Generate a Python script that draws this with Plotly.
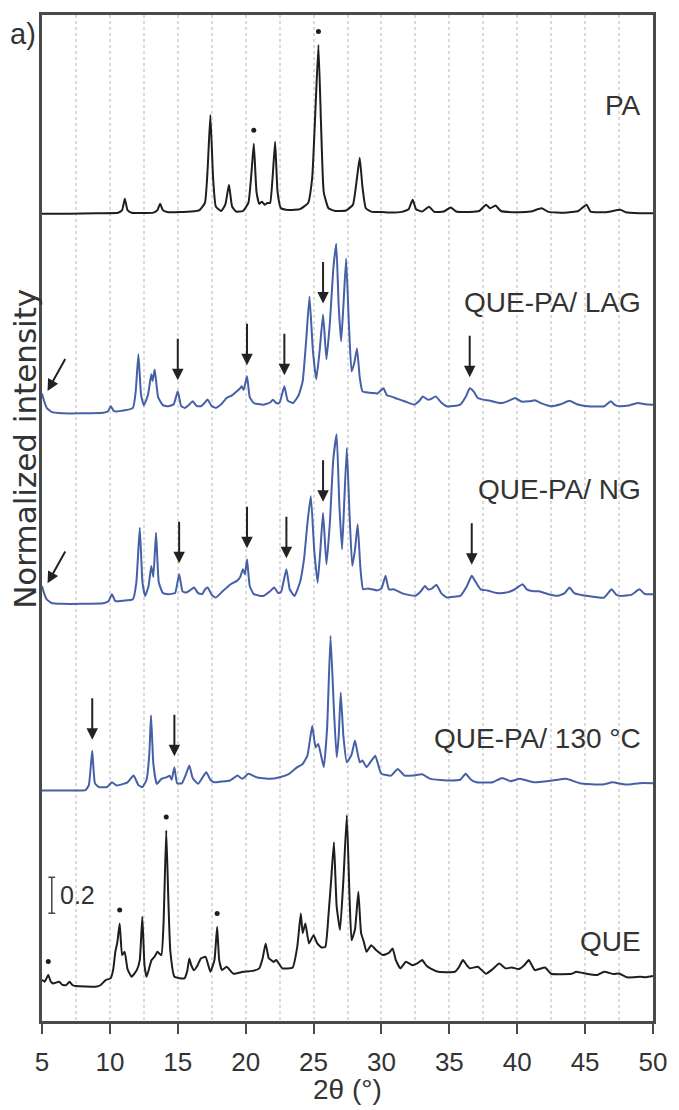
import numpy as np
import plotly.graph_objects as go

# ---------------- data ----------------
PA_X = [5.0, 7.0, 9.0, 10.6, 10.9, 11.1, 11.3, 11.6, 13.2, 13.5, 13.7, 13.9, 14.3, 16.0, 16.6, 17.0, 17.2, 17.4, 17.6,
        17.8, 18.2, 18.5, 18.77, 19.0, 19.3, 19.8, 20.2, 20.45, 20.6, 20.8, 21.0, 21.2, 21.4, 21.6, 21.8, 22.0, 22.17,
        22.35, 22.6, 23.2, 24.0, 24.6, 24.9, 25.15, 25.36, 25.55, 25.75, 26.1, 26.6, 27.4, 27.9, 28.2, 28.4, 28.6,
        28.85, 29.3, 30.0, 30.7, 31.5, 32.0, 32.3, 32.55, 33.0, 33.5, 33.9, 34.6, 35.1, 35.5, 36.5, 37.2, 37.7, 38.0,
        38.4, 38.8, 40.0, 41.0, 41.8, 42.3, 43.5, 44.5, 45.1, 45.4, 46.5, 47.6, 48.0, 49.0, 50.0]
PA_I = [0.0, 0.0, 0.003, 0.005, 0.02, 0.083, 0.02, 0.005, 0.006, 0.02, 0.056, 0.02, 0.008, 0.012, 0.02, 0.06, 0.25,
        0.55, 0.2, 0.04, 0.015, 0.05, 0.161, 0.04, 0.012, 0.015, 0.06, 0.25, 0.389, 0.12, 0.055, 0.067, 0.05, 0.06,
        0.06, 0.22, 0.40, 0.12, 0.03, 0.02, 0.025, 0.06, 0.2, 0.6, 0.939, 0.5, 0.12, 0.03, 0.015, 0.018, 0.05, 0.2,
        0.311, 0.15, 0.03, 0.01, 0.01, 0.006, 0.01, 0.025, 0.078, 0.025, 0.012, 0.039, 0.01, 0.012, 0.035, 0.012,
        0.01, 0.015, 0.05, 0.03, 0.045, 0.015, 0.008, 0.012, 0.03, 0.01, 0.005, 0.015, 0.05, 0.012, 0.008, 0.022,
        0.008, 0.003, 0.002]

LAG_X = [5.0, 5.15, 5.35, 5.7, 6.5, 8.0, 9.5, 9.85, 10.07, 10.3, 11.0, 11.7, 11.9, 12.1, 12.3, 12.5, 12.8, 13.05,
         13.15, 13.3, 13.55, 13.9, 14.3, 14.7, 15.0, 15.25, 15.5, 15.8, 16.1, 16.4, 16.7, 17.0, 17.2, 17.5, 17.8,
         18.2, 18.6, 19.0, 19.35, 19.6, 19.7, 19.85, 20.1, 20.3, 20.6, 21.3, 21.8, 22.0, 22.3, 22.5, 22.85, 23.1,
         23.5, 23.9, 24.2, 24.45, 24.7, 24.95, 25.2, 25.45, 25.7, 25.95, 26.2, 26.45, 26.67, 26.85, 27.03, 27.2,
         27.4, 27.6, 27.8, 28.0, 28.2, 28.4, 28.6, 29.0, 29.3, 29.7, 30.15, 30.4, 30.7, 31.2, 31.7, 32.4, 32.8,
         33.05, 33.4, 33.6, 34.0, 34.4, 34.8, 35.3, 35.8, 36.2, 36.5, 36.8, 37.1, 37.5, 38.0, 38.5, 38.9, 39.4,
         39.85, 40.3, 40.9, 41.3, 41.8, 42.5, 43.2, 43.85, 44.4, 45.2, 46.4, 46.9, 47.2, 47.6, 48.3, 48.9, 49.4, 50.0]
LAG_I = [0.11, 0.07, 0.03, 0.008, 0.0, 0.0, 0.003, 0.01, 0.039, 0.012, 0.015, 0.03, 0.12, 0.328, 0.1, 0.045, 0.1,
         0.217, 0.18, 0.244, 0.09, 0.045, 0.039, 0.05, 0.122, 0.04, 0.03, 0.045, 0.067, 0.04, 0.039, 0.06, 0.076,
         0.04, 0.03, 0.05, 0.085, 0.1, 0.122, 0.14, 0.15, 0.131, 0.206, 0.09, 0.057, 0.048, 0.06, 0.075, 0.055,
         0.06, 0.15, 0.07, 0.057, 0.1, 0.178, 0.4, 0.65, 0.35, 0.189, 0.35, 0.55, 0.3, 0.5, 0.8, 0.944, 0.6, 0.4,
         0.6, 0.861, 0.5, 0.233, 0.28, 0.361, 0.2, 0.122, 0.115, 0.113, 0.11, 0.139, 0.1, 0.094, 0.08, 0.067,
         0.048, 0.07, 0.094, 0.076, 0.078, 0.094, 0.06, 0.039, 0.04, 0.048, 0.09, 0.139, 0.12, 0.085, 0.076, 0.07,
         0.06, 0.057, 0.07, 0.085, 0.065, 0.067, 0.072, 0.055, 0.039, 0.05, 0.069, 0.05, 0.039, 0.039, 0.067,
         0.045, 0.039, 0.045, 0.057, 0.05, 0.048]

NG_X = [5.0, 5.15, 5.35, 5.7, 6.5, 8.0, 9.5, 9.9, 10.15, 10.4, 11.0, 11.7, 11.95, 12.2, 12.4, 12.6, 12.85, 13.05,
        13.2, 13.4, 13.6, 13.9, 14.3, 14.8, 15.1, 15.35, 15.6, 15.9, 16.2, 16.5, 16.8, 17.0, 17.2, 17.5, 17.8,
        18.3, 18.9, 19.35, 19.6, 19.8, 19.95, 20.1, 20.3, 20.6, 21.3, 21.8, 22.1, 22.4, 22.6, 23.0, 23.25, 23.6,
        24.0, 24.3, 24.55, 24.8, 25.05, 25.3, 25.5, 25.7, 25.95, 26.2, 26.45, 26.7, 26.9, 27.1, 27.25, 27.45,
        27.65, 27.85, 28.05, 28.25, 28.45, 28.65, 29.0, 29.3, 29.7, 30.0, 30.3, 30.55, 30.9, 31.5, 32.0, 32.5,
        32.9, 33.2, 33.45, 33.7, 34.05, 34.4, 34.8, 35.4, 35.8, 36.3, 36.65, 36.95, 37.3, 37.8, 38.5, 39.2, 39.8,
        40.4, 40.7, 41.2, 41.6, 42.3, 43.0, 43.5, 43.85, 44.2, 45.2, 46.4, 46.95, 47.3, 47.7, 48.4, 49.0, 49.4, 50.0]
NG_I = [0.1, 0.06, 0.025, 0.005, 0.0, 0.0, 0.003, 0.015, 0.054, 0.015, 0.018, 0.026, 0.12, 0.424, 0.12, 0.044,
        0.1, 0.211, 0.15, 0.396, 0.12, 0.06, 0.054, 0.06, 0.165, 0.07, 0.063, 0.075, 0.091, 0.06, 0.054, 0.08,
        0.091, 0.05, 0.035, 0.07, 0.109, 0.128, 0.15, 0.193, 0.165, 0.248, 0.1, 0.054, 0.044, 0.07, 0.091, 0.06,
        0.065, 0.193, 0.08, 0.044, 0.12, 0.25, 0.45, 0.6, 0.3, 0.118, 0.3, 0.507, 0.22, 0.45, 0.8, 0.944, 0.55,
        0.304, 0.55, 0.868, 0.5, 0.211, 0.3, 0.443, 0.2, 0.081, 0.085, 0.081, 0.075, 0.085, 0.156, 0.08, 0.081,
        0.06, 0.05, 0.045, 0.07, 0.1, 0.08, 0.085, 0.106, 0.06, 0.035, 0.04, 0.044, 0.1, 0.156, 0.12, 0.081,
        0.075, 0.06, 0.063, 0.08, 0.109, 0.081, 0.07, 0.07, 0.054, 0.045, 0.06, 0.091, 0.06, 0.044, 0.035, 0.081,
        0.05, 0.044, 0.05, 0.081, 0.055, 0.054]

T130_X = [5.0, 7.0, 8.2, 8.45, 8.7, 8.9, 9.2, 9.8, 10.15, 10.5, 11.0, 11.3, 11.75, 12.1, 12.4, 12.7, 12.9, 13.03,
          13.2, 13.45, 13.8, 14.2, 14.4, 14.55, 14.75, 14.95, 15.3, 15.6, 15.85, 16.1, 16.5, 16.8, 17.1, 17.4,
          17.67, 18.2, 18.85, 19.4, 19.75, 20.2, 20.8, 21.8, 22.5, 23.2, 23.8, 24.2, 24.55, 24.9, 25.15, 25.35,
          25.75, 26.0, 26.25, 26.5, 26.7, 26.85, 27.0, 27.2, 27.45, 27.8, 28.05, 28.4, 28.6, 28.9, 29.3, 29.55,
          29.85, 30.0, 30.7, 31.2, 31.7, 32.3, 33.0, 33.6, 35.1, 35.8, 36.2, 36.6, 37.0, 38.2, 38.9, 39.5, 40.2,
          41.2, 42.6, 43.6, 44.6, 46.3, 47.0, 48.0, 49.0, 50.0]
T130_I = [0.0, 0.0, 0.002, 0.03, 0.222, 0.04, 0.019, 0.019, 0.046, 0.028, 0.037, 0.045, 0.083, 0.03, 0.019, 0.06,
          0.2, 0.417, 0.15, 0.037, 0.065, 0.075, 0.083, 0.06, 0.13, 0.04, 0.04, 0.09, 0.139, 0.07, 0.037, 0.07,
          0.102, 0.06, 0.046, 0.05, 0.056, 0.083, 0.065, 0.093, 0.074, 0.065, 0.074, 0.093, 0.13, 0.148, 0.194,
          0.361, 0.241, 0.259, 0.13, 0.35, 0.86, 0.45, 0.185, 0.3, 0.546, 0.3, 0.157, 0.2, 0.278, 0.157, 0.167,
          0.13, 0.17, 0.194, 0.12, 0.093, 0.083, 0.12, 0.083, 0.083, 0.09, 0.065, 0.056, 0.06, 0.093, 0.06, 0.046,
          0.046, 0.07, 0.052, 0.065, 0.046, 0.056, 0.065, 0.041, 0.033, 0.046, 0.033, 0.041, 0.041]

QUE_X = [5.0, 5.2, 5.46, 5.65, 5.82, 6.26, 6.5, 6.79, 7.03, 7.25, 7.5, 8.96, 9.3, 9.69, 10.05, 10.25, 10.4, 10.55,
         10.72, 10.9, 11.09, 11.3, 11.6, 11.98, 12.2, 12.39, 12.55, 12.7, 13.07, 13.3, 13.5, 13.79, 13.95, 14.15,
         14.3, 14.45, 14.76, 15.49, 15.7, 15.85, 16.0, 16.2, 16.45, 16.7, 17.05, 17.4, 17.7, 17.9, 18.05, 18.26,
         18.6, 19.1, 19.8, 20.5, 21.0, 21.25, 21.47, 21.7, 21.88, 22.05, 22.25, 22.7, 23.46, 23.8, 24.06, 24.2,
         24.4, 24.66, 25.0, 25.27, 25.6, 25.87, 26.1, 26.3, 26.5, 26.7, 26.95, 27.2, 27.45, 27.65, 27.8, 28.05,
         28.3, 28.5, 28.7, 28.9, 29.25, 29.6, 30.1, 30.55, 30.82, 31.06, 31.4, 31.8, 32.27, 32.6, 33.0, 33.3,
         33.6, 34.2, 35.4, 35.7, 36.0, 36.3, 36.5, 37.1, 37.7, 38.2, 38.67, 39.15, 39.6, 40.1, 40.5, 40.85, 41.3,
         42.05, 42.5, 44.0, 44.35, 45.2, 45.9, 46.4, 47.1, 47.5, 48.1, 49.06, 49.5, 50.0]
QUE_I = [0.04, 0.03, 0.067, 0.03, 0.02, 0.03, 0.012, 0.011, 0.03, 0.01, 0.006, 0.002, 0.01, 0.039, 0.048, 0.1,
         0.196, 0.25, 0.354, 0.178, 0.196, 0.1, 0.057, 0.094, 0.15, 0.391, 0.12, 0.057, 0.15, 0.17, 0.196, 0.178,
         0.35, 0.872, 0.5, 0.2, 0.057, 0.048, 0.09, 0.159, 0.12, 0.094, 0.12, 0.159, 0.168, 0.085, 0.15, 0.335,
         0.15, 0.094, 0.113, 0.074, 0.085, 0.09, 0.104, 0.16, 0.243, 0.16, 0.15, 0.14, 0.15, 0.104, 0.109, 0.224,
         0.409, 0.3, 0.354, 0.243, 0.289, 0.243, 0.22, 0.224, 0.4, 0.6, 0.806, 0.45, 0.317, 0.6, 0.956, 0.5, 0.261,
         0.32, 0.53, 0.3, 0.252, 0.196, 0.233, 0.206, 0.178, 0.19, 0.215, 0.15, 0.104, 0.141, 0.122, 0.13, 0.15,
         0.12, 0.104, 0.085, 0.085, 0.11, 0.15, 0.12, 0.104, 0.113, 0.074, 0.1, 0.131, 0.104, 0.109, 0.1, 0.12,
         0.15, 0.094, 0.109, 0.074, 0.074, 0.085, 0.072, 0.067, 0.085, 0.072, 0.075, 0.054, 0.057, 0.055, 0.061]

SERIES_NAMES = ["QUE", "QUE-PA/ 130 °C", "QUE-PA/ NG", "QUE-PA/ LAG", "PA"]
OFFSETS = [0.189, 1.283, 2.322, 3.383, 4.494]

# peaks marked with an asterisk (dot) and with an arrow
PA_STAR_PEAKS = [20.6, 25.36]
QUE_STAR_PEAKS = [5.46, 10.72, 14.15, 17.9]
LAG_ARROW_PEAKS = [15.0, 20.1, 22.85, 25.7, 36.5]
NG_ARROW_PEAKS = [15.1, 20.1, 23.0, 25.7, 36.65]
T130_ARROW_PEAKS = [8.7, 14.75]
SCALE_BAR = 0.2
X_TICKS = [5, 10, 15, 20, 25, 30, 35, 40, 45, 50]

# ---------------- figure ----------------
BLUE = "#4560a6"
BLACK = "#1e1e1e"
series = [
    (QUE_X, QUE_I, BLACK),
    (T130_X, T130_I, BLUE),
    (NG_X, NG_I, BLUE),
    (LAG_X, LAG_I, BLUE),
    (PA_X, PA_I, BLACK),
]

fig = go.Figure()
for (xs, ys, col), off, name in zip(series, OFFSETS, SERIES_NAMES):
    fig.add_trace(go.Scatter(x=xs, y=np.array(ys) + off, mode="lines", name=name,
                             line=dict(color=col, width=2, shape="spline", smoothing=0.4),
                             hoverinfo="skip", showlegend=False))


def level(xs, ys, off, px):
    return float(np.interp(px, xs, ys)) + off


# asterisk dots
star_x, star_y = [], []
for p in PA_STAR_PEAKS:
    star_x.append(p); star_y.append(level(PA_X, PA_I, OFFSETS[4], p) + 0.075)
for p in QUE_STAR_PEAKS:
    star_x.append(p); star_y.append(level(QUE_X, QUE_I, OFFSETS[0], p) + 0.075)
fig.add_trace(go.Scatter(x=star_x, y=star_y, mode="markers", marker=dict(size=5, color=BLACK),
                         hoverinfo="skip", showlegend=False))

# scale bar (I shape)
sb_x, sb_y0 = 5.72, 0.6
fig.add_trace(go.Scatter(
    x=[sb_x, sb_x, None, sb_x - 0.25, sb_x + 0.25, None, sb_x - 0.25, sb_x + 0.25],
    y=[sb_y0, sb_y0 + SCALE_BAR, None, sb_y0, sb_y0, None, sb_y0 + SCALE_BAR, sb_y0 + SCALE_BAR],
    mode="lines", line=dict(color="#444", width=1.5), hoverinfo="skip", showlegend=False))

annotations = []
arrow_common = dict(showarrow=True, arrowhead=2, arrowsize=1.15, arrowwidth=2, arrowcolor="#222",
                    xref="x", yref="y", text="")
for xs, ys, off, peaks in [(LAG_X, LAG_I, OFFSETS[3], LAG_ARROW_PEAKS),
                           (NG_X, NG_I, OFFSETS[2], NG_ARROW_PEAKS),
                           (T130_X, T130_I, OFFSETS[1], T130_ARROW_PEAKS)]:
    for p in peaks:
        annotations.append(dict(x=p, y=level(xs, ys, off, p), ax=0, ay=-54, standoff=11, **arrow_common))
# diagonal arrows at the start of the LAG and NG patterns
for xs, ys, off in [(LAG_X, LAG_I, OFFSETS[3]), (NG_X, NG_I, OFFSETS[2])]:
    annotations.append(dict(x=5.3, y=level(xs, ys, off, 5.0), ax=20, ay=-36, standoff=3, **arrow_common))

label_font = dict(family="Liberation Sans, Arial, sans-serif", size=28, color="#333")
label_y = [0.444, 1.572, 2.961, 4.0, 5.094]
for name, ly in zip(SERIES_NAMES, label_y):
    annotations.append(dict(x=49.25, y=ly, xref="x", yref="y", text=name, showarrow=False,
                            xanchor="right", yanchor="middle", font=label_font))

annotations.append(dict(x=6.15, y=0.7, xref="x", yref="y", text="0.2", showarrow=False,
                        xanchor="left", yanchor="middle",
                        font=dict(family="Liberation Sans, Arial, sans-serif", size=25, color="#333")))
annotations.append(dict(x=-0.031, y=0.981, xref="paper", yref="paper", text="a)", showarrow=False,
                        xanchor="center", yanchor="middle",
                        font=dict(family="Liberation Sans, Arial, sans-serif", size=29, color="#333")))
annotations.append(dict(x=0.5, y=-0.068, xref="paper", yref="paper", text="2θ (°)", showarrow=False,
                        xanchor="center", yanchor="middle",
                        font=dict(family="Liberation Sans, Arial, sans-serif", size=28, color="#333")))
annotations.append(dict(x=-0.029, y=0.569, xref="paper", yref="paper", text="Normalized intensity",
                        showarrow=False, textangle=-90, xanchor="center", yanchor="middle",
                        font=dict(family="DejaVu Sans, sans-serif", size=31, color="#333")))

fig.update_layout(
    width=679, height=1110,
    margin=dict(l=42, r=16, t=13, b=89),
    paper_bgcolor="white", plot_bgcolor="white",
    annotations=annotations,
    xaxis=dict(range=[5, 50], tickmode="array", tickvals=X_TICKS, ticktext=[str(t) for t in X_TICKS],
               ticks="outside", ticklen=10, tickwidth=2, tickcolor="#4a4a4a",
               showline=True, mirror=True, linecolor="#4a4a4a", linewidth=2.5,
               showgrid=True, gridcolor="#dadada", griddash="dot", gridwidth=1.5,
               minor=dict(tick0=7.5, dtick=5, showgrid=True, gridcolor="#dadada", griddash="dot",
                          gridwidth=1.5, ticks=""),
               zeroline=False, ticklabelstandoff=6,
               tickfont=dict(family="Liberation Sans, Arial, sans-serif", size=26, color="#333")),
    yaxis=dict(range=[0, 5.6], showticklabels=False, ticks="", showgrid=False,
               showline=True, mirror=True, linecolor="#4a4a4a", linewidth=2.5, zeroline=False),
)

fig.write_html("out.html")
